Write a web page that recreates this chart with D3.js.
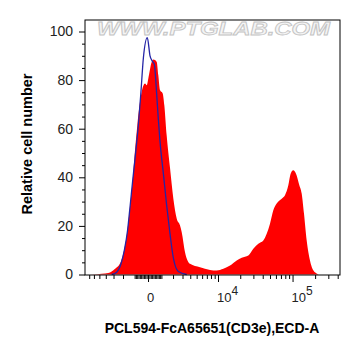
<!DOCTYPE html>
<html>
<head>
<meta charset="utf-8">
<script src="https://cdn.jsdelivr.net/npm/d3@7"></script>
<style>
  html, body { margin: 0; padding: 0; background: #fff; }
  svg { display: block; }
  text { font-family: "Liberation Sans", Arial, sans-serif; }
</style>
</head>
<body>
<svg id="chart" width="361" height="356"></svg>
<script>
// ---- data (fluorescence intensity, relative cell number %) ----
const sampleX = [-8015, -5466, -4613, -3651, -2826, -2192, -1876, -1586, -1374, -1152, -1048, -789, -460, -218, -95, 22, 269, 386, 638, 760, 886, 1103, 1233, 1428, 1727, 2030, 2360, 2715, 2907, 3302, 3967, 5595, 7755, 9597, 11826, 14561, 17920, 20920, 25670, 29930, 34920, 40710, 45180, 50020, 55360, 61400, 71650, 79300, 87800, 94300, 102300, 111200, 123200, 132400, 142200, 154400, 170900, 199200, 232400, 429400];
const sampleY = [0, 0.15, 0.3, 0.6, 2.35, 5.5, 10.5, 18.5, 28, 39, 46, 61.4, 75.2, 78.6, 77.9, 80.7, 87.5, 88.5, 87.5, 82, 75.9, 74.5, 69.7, 57.3, 43.6, 31.2, 23, 20.2, 17.4, 9.2, 4.4, 3.0, 1.9, 1.65, 2.35, 3.7, 5.8, 6.9, 7.8, 10.6, 12.7, 14.0, 16.8, 20.9, 26.4, 29.2, 31.2, 32.6, 36.7, 41.5, 42.9, 41.5, 36.7, 33.3, 25.0, 14.0, 5.8, 0.95, 0, 0];
const controlX = [-3215, -2638, -2192, -1876, -1586, -1374, -1152, -969, -714, -534, -340, -51, 145, 291, 460, 638, 760, 886, 1158, 1428, 1727, 2030, 2530, 3517];
const controlY = [0, 0.95, 4.4, 9.9, 18.1, 27.8, 38.8, 47.7, 61.4, 73.8, 89, 97.5, 90, 88, 86.5, 74, 64, 55, 41.5, 28.5, 16.5, 6.8, 1.2, 0];
const yTicks = [0, 20, 40, 60, 80, 100];
const yMinorTicks = [5, 10, 15, 25, 30, 35, 45, 50, 55, 65, 70, 75, 85, 90, 95];
const xMajorTicks = [0, 10000, 100000];
const xMajorLabels = [["0", ""], ["10", "4"], ["10", "5"]];
const xMinorTicks = [-7000, -6000, -5000, -4000, -3000, -2000, -1000,
  -900, -800, -700, -600, -500, -400, -300, -200, -100,
  100, 200, 300, 400, 500, 600, 700, 800, 900,
  1000, 2000, 3000, 4000, 5000, 6000, 7000, 8000, 9000,
  20000, 30000, 40000, 50000, 60000, 70000, 80000, 90000,
  200000, 300000, 400000];
const xTitle = "PCL594-FcA65651(CD3e),ECD-A";
const yTitle = "Relative cell number";
const watermark = "WWW.PTGLAB.COM";

// ---- layout ----
const L = 85, R = 340, T = 20, B = 275;
const W_BIEX = 2364;
const tf = v => Math.asinh(v / W_BIEX);
const xT = d3.scaleLinear().domain([tf(-8015), tf(429400)]).range([L, R]);
const x = v => xT(tf(v));
const y = d3.scaleLinear().domain([0, 100]).range([274.5, 31.5]);

const svg = d3.select("#chart");

// watermark
svg.append("text")
  .attr("x", 97).attr("y", 35)
  .attr("textLength", 233).attr("lengthAdjust", "spacingAndGlyphs")
  .style("font-size", "18px").style("font-weight", "bold").style("font-style", "italic")
  .attr("fill", "#f4f4f4").attr("stroke", "#c4c4c4").attr("stroke-width", 0.8)
  .text(watermark);

// sample histogram (filled)
const sample = sampleX.map((v, i) => [v, sampleY[i]]);
svg.append("path")
  .datum(sample)
  .attr("fill", "#ff0000")
  .attr("d", d3.area().x(d => x(d[0])).y0(y(0)).y1(d => y(d[1])).curve(d3.curveMonotoneX));

// control histogram (line)
const control = controlX.map((v, i) => [v, controlY[i]]);
svg.append("path")
  .datum(control)
  .attr("fill", "none")
  .attr("stroke", "#2424a6")
  .attr("stroke-width", 1.3)
  .attr("d", d3.line().x(d => x(d[0])).y(d => y(d[1])).curve(d3.curveMonotoneX));

// frame
svg.append("rect")
  .attr("x", L).attr("y", T).attr("width", R - L).attr("height", B - T)
  .attr("fill", "none").attr("stroke", "#000").attr("stroke-width", 1);

// y axis
const yAxisMajor = svg.append("g").attr("transform", `translate(${L},0)`)
  .call(d3.axisLeft(y).tickValues(yTicks).tickSize(6).tickPadding(6).tickFormat(d3.format("d")));
yAxisMajor.select(".domain").remove();
yAxisMajor.selectAll("text").style("font-size", "14px").attr("fill", "#222").style("font-family", "'Liberation Sans', Arial, sans-serif");
const yAxisMinor = svg.append("g").attr("transform", `translate(${L},0)`)
  .call(d3.axisLeft(y).tickValues(yMinorTicks).tickSize(3).tickFormat(""));
yAxisMinor.select(".domain").remove();

// x axis
const xAxisMinor = svg.append("g").attr("transform", `translate(0,${B})`)
  .call(d3.axisBottom(xT).tickValues(xMinorTicks.map(tf)).tickSize(4).tickFormat(""));
xAxisMinor.select(".domain").remove();
const xAxisMajor = svg.append("g").attr("transform", `translate(0,${B})`)
  .call(d3.axisBottom(xT).tickValues(xMajorTicks.map(tf)).tickSize(7).tickFormat(""));
xAxisMajor.select(".domain").remove();

// x tick labels with superscripts
xMajorTicks.forEach((v, i) => {
  const t = svg.append("text")
    .attr("x", x(v) - 1).attr("y", 302)
    .attr("text-anchor", "start")
    .style("font-size", "13px").attr("fill", "#222");
  t.append("tspan").text(xMajorLabels[i][0]);
  if (xMajorLabels[i][1]) {
    t.append("tspan").attr("dy", -7).style("font-size", "12px").text(xMajorLabels[i][1]);
  }
});

// titles
svg.append("text")
  .attr("x", 212).attr("y", 333)
  .attr("text-anchor", "middle")
  .style("font-size", "14px").style("font-weight", "bold")
  .text(xTitle);
svg.append("text")
  .attr("transform", "translate(32,144) rotate(-90)")
  .attr("text-anchor", "middle")
  .style("font-size", "14.5px").style("font-weight", "bold")
  .text(yTitle);
</script>
</body>
</html>
